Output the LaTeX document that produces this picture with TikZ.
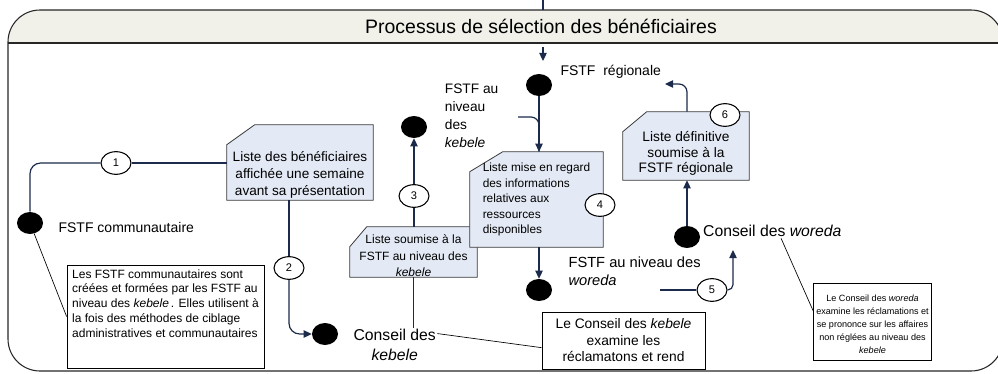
\documentclass[tikz,border=0pt]{standalone}
\usepackage{fontspec}
\setmainfont{Liberation Sans}
\usetikzlibrary{arrows.meta, shapes.geometric, positioning, backgrounds, calc}
\definecolor{navy}{HTML}{1C2B4B}
\definecolor{boxblue}{HTML}{E4EAF5}
\definecolor{boxedge}{HTML}{3A3A3A}
\definecolor{hdr}{HTML}{F1F1EA}
\tikzset{
  blackdot/.style={ellipse,fill=black,minimum width=19.5pt,minimum height=16.5pt,inner sep=0pt},
  num/.style={ellipse,draw=black,fill=white,line width=0.8pt,minimum width=22.5pt,minimum height=17pt,inner sep=0pt,font=\fontsize{8.3}{9}\selectfont},
  lbl/.style={inner sep=1pt,align=left,font=\fontsize{10.5}{14}\selectfont},
  council/.style={inner sep=1pt,align=center,font=\fontsize{11.8}{15}\selectfont},
  liste/.style={rectangle,inner sep=0pt,align=center},
  note/.style={rectangle,draw=black,fill=white,line width=0.6pt,inner sep=2pt,align=center},
  cutedge/.style={draw=boxedge,fill=boxblue,line width=0.6pt},
  conn/.style={draw=navy,line width=0.9pt},
  arr/.style={conn,-{Triangle[length=6pt,width=5.5pt]}},
  lead/.style={draw=black,line width=0.5pt},
  outerframe/.style={draw=black!85,line width=0.8pt}
}
\begin{document}
\begin{tikzpicture}[x=0.75pt,y=-0.75pt]
  \useasboundingbox (0,0) rectangle (998,374);

  \begin{scope}
    \clip[rounded corners=24pt] (8,10) rectangle (1003,371);
    \fill[hdr] (8,10) rectangle (1003,43);
  \end{scope}
  \draw[outerframe,rounded corners=24pt] (8,10) rectangle (1003,371);
  \draw[outerframe] (8,43) -- (1003,43);
  \node[font=\fontsize{14.6}{16}\selectfont] (title) at (541,26) {Processus de sélection des bénéficiaires};

  \node[blackdot] (dotC)  at (30,223)  {};
  \node[blackdot] (dotK)  at (325,334) {};
  \node[blackdot] (dotKF) at (414,127) {};
  \node[blackdot] (dotR)  at (539,85)  {};
  \node[blackdot] (dotW)  at (539,290) {};
  \node[blackdot] (dotWC) at (687,237) {};

  \node[lbl, right=10.3pt of dotC, yshift=-3pt] (lblC) {FSTF communautaire};
  \node[lbl, right=5pt of dotR, yshift=9.75pt] (lblR) {FSTF~ régionale};
  \node[lbl, right=12pt of dotKF, yshift=8.5pt, font=\fontsize{10.3}{13.5}\selectfont] (lblKF) {FSTF au\\niveau\\des\\\textit{kebele}};
  \node[lbl, right=11pt of dotW, yshift=14pt, font=\fontsize{11}{14}\selectfont] (lblW) {FSTF au niveau des\\\textit{woreda}};
  \node[council, right=10.3pt of dotK, yshift=-8.25pt] (lblK) {Conseil des\\\textit{kebele}};
  \node[council, right=1pt of dotWC, yshift=4.5pt] (lblWC) {Conseil des \textit{woreda}};

  \node[liste, minimum width=109.5pt, minimum height=56.25pt, text height=49pt, text depth=0pt, font=\fontsize{10.2}{12.75}\selectfont] (lstA) at (300,162.5)
    {Liste des bénéficiaires\\affichée une semaine\\avant sa présentation};
  \node[liste, minimum width=95.25pt, minimum height=37.5pt, text height=37pt, font=\fontsize{9}{12.4}\selectfont] (lstB) at (413.5,252)
    {Liste soumise à la\\FSTF au niveau des\\\textit{kebele}};
  \node[liste, align=left, minimum width=99.75pt, minimum height=71.25pt, font=\fontsize{8.9}{11.6}\selectfont] (lstC) at (536.5,199.5)
    {Liste mise en regard\\des informations\\relatives aux\\ressources\\disponibles};
  \node[liste, minimum width=94.5pt, minimum height=51pt, text height=42.5pt, font=\fontsize{10.3}{11.6}\selectfont] (lstD) at (686,146)
    {Liste définitive\\soumise à la\\FSTF régionale};

  \node[note, align=left, minimum width=147.75pt, minimum height=77.25pt, text depth=20pt, font=\fontsize{9}{11.06}\selectfont] (lnE) at (165.5,316.5)
    {Les FSTF communautaires sont\\créées et formées par les FSTF au\\niveau des \textit{kebele}\,. Elles utilisent à\\la fois des méthodes de ciblage\\administratives et communautaires};
  \node[note, minimum width=122.25pt, minimum height=42.75pt, font=\fontsize{10.35}{12.4}\selectfont] (lnF) at (623.5,340.5)
    {Le Conseil des \textit{kebele}\\examine les\\réclamatons et rend};
  \node[note, minimum width=83.25pt, minimum height=57.75pt, text height=48pt, font=\fontsize{6.8}{9.75}\selectfont] (lnG) at (872.5,321.5)
    {Le Conseil des \textit{woreda}\\examine les réclamations et\\se prononce sur les affaires\\non réglées au niveau des\\\textit{kebele}};

  \node[num] (n1) at (116,163) {1};
  \node[num] (n2) at (289,268) {2};
  \node[num] (n3) at (414,196) {3};
  \node[num] (n4) at (600,205) {4};
  \node[num] (n5) at (712,290) {5};
  \node[num] (n6) at (725,115) {6};

  \coordinate (src)    at (543,0);
  \coordinate (srcend) at (543,10);
  \coordinate (hdrout) at (543,47);
  \coordinate (rin)    at (543,61);
  \coordinate (kfjoin) at (518,117);
  \coordinate (wstart) at (660,290);
  \coordinate (wtip)   at (733,250);
  \coordinate (rtip)   at (665,84);

  \draw[conn] (src) -- (srcend);
  \draw[arr] (hdrout) -- (rin);
  \draw[conn, rounded corners=8pt] (dotC) |- (n1);
  \draw[conn] (n1) -- (n1 -| lstA.west);
  \draw[conn] (lstA.south -| n2) -- (n2);
  \draw[arr, rounded corners=8pt] (n2) |- (dotK);
  \draw[conn] (lstB.north -| n3) -- (n3);
  \draw[arr] (n3) -- (dotKF);
  \draw[conn] (lstB.south) -- (lstB.south |- lblK.north);
  \draw[conn, rounded corners=6pt] (kfjoin) -| (dotR |- lstC.north);
  \draw[arr] (dotR) -- (dotR |- lstC.north);
  \draw[arr] (lstC.south -| dotW) -- (dotW);
  \draw[conn] (wstart) -- (n5);
  \draw[arr, rounded corners=4pt] (n5) -| (wtip);
  \draw[arr] (dotWC) -- (dotWC |- lstD.south);
  \draw[arr, rounded corners=6pt] (lstD.north -| dotWC) |- (rtip);

  \draw[lead] (dotC) -- (lnE.west);
  \draw[lead] (lblK.15) -- (lnF.185);
  \draw[lead] (lblWC.-40) -- (lnG.170);

  \begin{scope}[on background layer]
    \foreach \b/\cw/\ch in {lstA/28/20,lstB/17/20,lstC/33/20,lstD/24/20}
      \draw[cutedge] ($(\b.north west)+(0,\ch)$) -- ($(\b.north west)+(\cw,0)$) -- (\b.north east) -- (\b.south east) -- (\b.south west) -- cycle;
  \end{scope}
\end{tikzpicture}
\end{document}
